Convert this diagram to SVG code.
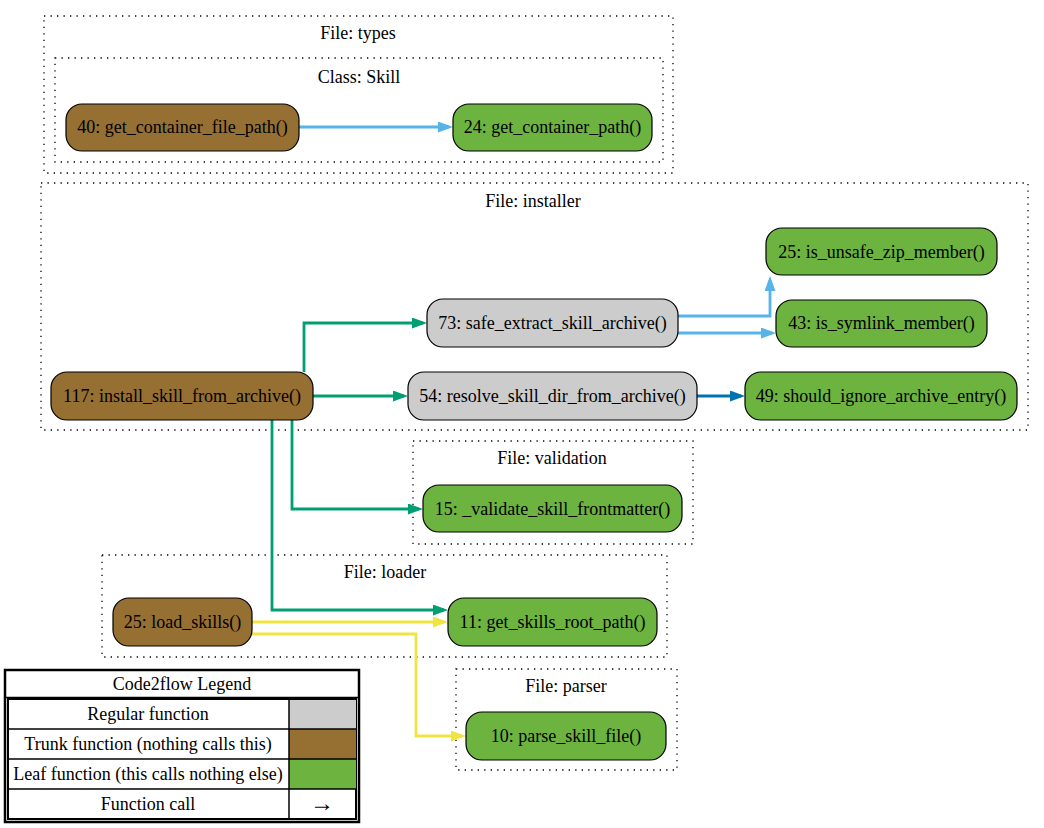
<svg xmlns="http://www.w3.org/2000/svg" width="1044" height="828" viewBox="0 0 1044 828">
<style>
text{font-family:'Liberation Serif','Times New Roman',Tinos,'DejaVu Serif',serif;font-size:18px;fill:#000;text-anchor:middle}
.cl{fill:none;stroke:#000;stroke-width:1.3;stroke-dasharray:1.3 5.2}
.n{stroke:#000;stroke-width:1.2}
.reg{fill:#cccccc}.trunk{fill:#966f33}.leaf{fill:#6db33f}
.e{fill:none;stroke-width:2.8}
.lb{stroke:#56b4e9}.gr{stroke:#009e73}.db{stroke:#0072b2}.ye{stroke:#f0e442}
.lg{fill:#fff;stroke:#000}
</style>
<defs>
<marker id="a-lb" markerUnits="userSpaceOnUse" markerWidth="15" markerHeight="11" refX="11" refY="5.5" orient="auto"><path d="M0,0 L15,5.5 L0,11 z" fill="#56b4e9"/></marker>
<marker id="a-gr" markerUnits="userSpaceOnUse" markerWidth="15" markerHeight="11" refX="11" refY="5.5" orient="auto"><path d="M0,0 L15,5.5 L0,11 z" fill="#009e73"/></marker>
<marker id="a-db" markerUnits="userSpaceOnUse" markerWidth="15" markerHeight="11" refX="11" refY="5.5" orient="auto"><path d="M0,0 L15,5.5 L0,11 z" fill="#0072b2"/></marker>
<marker id="a-ye" markerUnits="userSpaceOnUse" markerWidth="15" markerHeight="11" refX="11" refY="5.5" orient="auto"><path d="M0,0 L15,5.5 L0,11 z" fill="#f0e442"/></marker>
</defs>
<rect width="1044" height="828" fill="#fff"/>
<g id="clusters">
<rect class="cl" x="44" y="16" width="629" height="157"/>
<text x="358" y="39">File: types</text>
<rect class="cl" x="55" y="58" width="608" height="104"/>
<text x="359" y="83">Class: Skill</text>
<rect class="cl" x="41" y="183" width="987" height="247"/>
<text x="533" y="207">File: installer</text>
<rect class="cl" x="413" y="441" width="280" height="103"/>
<text x="552" y="464">File: validation</text>
<rect class="cl" x="102" y="555" width="565" height="102"/>
<text x="385" y="578">File: loader</text>
<rect class="cl" x="456" y="669" width="221" height="101"/>
<text x="566" y="692">File: parser</text>
</g>
<g id="edges">
<path class="e lb" d="M299,127 H449" marker-end="url(#a-lb)"/>
<path class="e gr" d="M304,372 V323 H423" marker-end="url(#a-gr)"/>
<path class="e gr" d="M313,396 H404" marker-end="url(#a-gr)"/>
<path class="e lb" d="M678,316 H770 V280" marker-end="url(#a-lb)"/>
<path class="e lb" d="M678,333 H772" marker-end="url(#a-lb)"/>
<path class="e db" d="M697,396 H741" marker-end="url(#a-db)"/>
<path class="e gr" d="M292,420 V509 H419" marker-end="url(#a-gr)"/>
<path class="e gr" d="M272,420 V610 H444" marker-end="url(#a-gr)"/>
<path class="e ye" d="M252,622 H444" marker-end="url(#a-ye)"/>
<path class="e ye" d="M252,634 H416 V736 H462" marker-end="url(#a-ye)"/>
</g>
<g id="n40"><rect class="n trunk" x="66" y="104" width="233" height="47" rx="16"/><text x="182.5" y="133">40: get_container_file_path()</text></g>
<g id="n24"><rect class="n leaf" x="453" y="104" width="199" height="47" rx="16"/><text x="552.5" y="133">24: get_container_path()</text></g>
<g id="n25u"><rect class="n leaf" x="766" y="228" width="231" height="47" rx="16"/><text x="881.5" y="257.5">25: is_unsafe_zip_member()</text></g>
<g id="n43"><rect class="n leaf" x="776" y="300" width="211" height="47" rx="16"/><text x="881.5" y="329">43: is_symlink_member()</text></g>
<g id="n73"><rect class="n reg" x="427" y="299" width="251" height="48" rx="16"/><text x="552.5" y="329">73: safe_extract_skill_archive()</text></g>
<g id="n117"><rect class="n trunk" x="51" y="372" width="262" height="48" rx="16"/><text x="182" y="402">117: install_skill_from_archive()</text></g>
<g id="n54"><rect class="n reg" x="408" y="372" width="289" height="48" rx="16"/><text x="552.5" y="402">54: resolve_skill_dir_from_archive()</text></g>
<g id="n49"><rect class="n leaf" x="745" y="372" width="272" height="48" rx="16"/><text x="881" y="402">49: should_ignore_archive_entry()</text></g>
<g id="n15"><rect class="n leaf" x="423" y="485" width="259" height="47" rx="16"/><text x="552.5" y="514.5">15: _validate_skill_frontmatter()</text></g>
<g id="n25l"><rect class="n trunk" x="113" y="598" width="139" height="48" rx="16"/><text x="182.5" y="628">25: load_skills()</text></g>
<g id="n11"><rect class="n leaf" x="448" y="598" width="209" height="48" rx="16"/><text x="552.5" y="628">11: get_skills_root_path()</text></g>
<g id="n10"><rect class="n leaf" x="466" y="712" width="200" height="48" rx="16"/><text x="566" y="742">10: parse_skill_file()</text></g>
<g id="legend">
<rect class="lg" x="5" y="670" width="354" height="152" stroke-width="2.5"/>
<line x1="5" y1="697.5" x2="359" y2="697.5" stroke="#000" stroke-width="1.5"/>
<text x="182" y="690">Code2flow Legend</text>
<rect class="lg" x="8" y="699" width="348" height="120" stroke-width="2"/>
<rect x="289" y="700" width="67" height="29" fill="#cccccc"/>
<rect x="289" y="729" width="67" height="30" fill="#966f33"/>
<rect x="289" y="759" width="67" height="30" fill="#6db33f"/>
<line x1="8" y1="729" x2="356" y2="729" stroke="#000" stroke-width="1.5"/>
<line x1="8" y1="759" x2="356" y2="759" stroke="#000" stroke-width="1.5"/>
<line x1="8" y1="789" x2="356" y2="789" stroke="#000" stroke-width="1.5"/>
<line x1="289" y1="699" x2="289" y2="819" stroke="#000" stroke-width="1.5"/>
<text x="148" y="720">Regular function</text>
<text x="148" y="750">Trunk function (nothing calls this)</text>
<text x="148" y="780">Leaf function (this calls nothing else)</text>
<text x="148" y="810">Function call</text>
<text x="322" y="811" style="font-size:24px">→</text>
</g>
</svg>
